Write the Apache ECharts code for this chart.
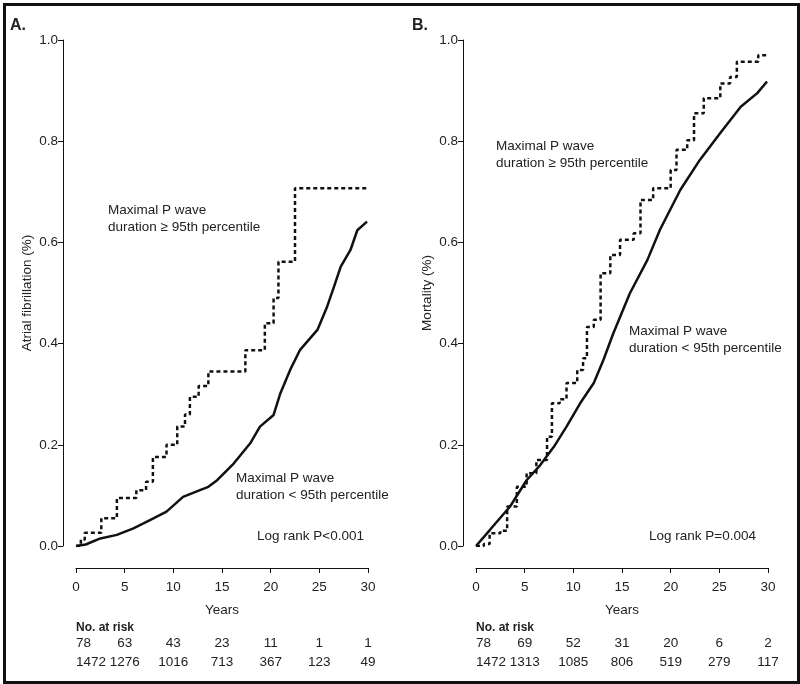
<!DOCTYPE html>
<html><head><meta charset="utf-8">
<script src="https://cdn.jsdelivr.net/npm/echarts@6/dist/echarts.min.js"></script>
<style>html,body{margin:0;padding:0;background:#fff}#c{width:800px;height:684px}</style>
</head><body><div id="c"></div>
<script>
// Panel A: atrial fibrillation
const afHigh = [[0,0],[0.5,0.013],[0.9,0.026],[2.6,0.055],[4.2,0.095],[6.2,0.11],[7.2,0.127],[7.9,0.176],[9.3,0.2],[10.4,0.236],[11.2,0.26],[11.7,0.295],[12.6,0.316],[13.6,0.345],[17.4,0.387],[19.4,0.44],[20.3,0.49],[20.8,0.562],[22.5,0.707],[29.9,0.707]];
const afLow = [[0,0],[1,0.003],[2.5,0.015],[4.2,0.022],[5.9,0.035],[7.6,0.051],[9.3,0.068],[11.0,0.097],[12.8,0.111],[13.6,0.117],[14.5,0.130],[16.2,0.163],[17.9,0.203],[18.9,0.236],[20.3,0.259],[21.0,0.302],[22.0,0.348],[23.0,0.387],[24.8,0.427],[25.8,0.473],[26.5,0.512],[27.2,0.552],[28.2,0.585],[28.9,0.624],[29.9,0.641]];
// Panel B: mortality
const mortHigh = [[0,0],[0.8,0.004],[1.4,0.025],[2.5,0.03],[3.2,0.078],[4.2,0.117],[5.2,0.144],[6.2,0.170],[7.3,0.216],[7.8,0.282],[8.6,0.29],[9.3,0.322],[10.4,0.348],[11.0,0.371],[11.4,0.433],[12.1,0.447],[12.8,0.539],[13.8,0.575],[14.8,0.605],[16.2,0.618],[16.9,0.684],[18.2,0.707],[20.0,0.743],[20.6,0.783],[21.7,0.802],[22.4,0.855],[23.4,0.885],[25.1,0.914],[26.1,0.927],[26.8,0.957],[29.0,0.970],[29.9,0.970]];
const mortLow = [[0,0],[1.44,0.032],[3.5,0.078],[5.2,0.130],[6.6,0.160],[8.0,0.196],[9.3,0.236],[10.7,0.282],[12.1,0.322],[13.1,0.368],[14.1,0.420],[15.8,0.499],[17.6,0.565],[18.9,0.625],[21.0,0.704],[23.0,0.763],[25.1,0.816],[27.2,0.868],[28.9,0.895],[29.9,0.918]];
// Numbers at risk at 0,5,...,30 years
const riskA_high = [78,63,43,23,11,1,1];
const riskA_low = [1472,1276,1016,713,367,123,49];
const riskB_high = [78,69,52,31,20,6,2];
const riskB_low = [1472,1313,1085,806,519,279,117];
const yTicks = [0,0.2,0.4,0.6,0.8,1.0];

const FONT = 'Liberation Sans, Arial, sans-serif';
const TXT = '#222';
const chart = echarts.init(document.getElementById('c'));

function grid(left){ return {left:left, top:40, width:292, height:506}; }
function mainX(gi){
  return {gridIndex:gi, type:'value', min:0, max:30, interval:5, offset:22,
    axisLine:{onZero:false,lineStyle:{color:'#111',width:1}}, axisTick:{length:5,lineStyle:{color:'#111'}},
    splitLine:{show:false}, axisLabel:{color:TXT,fontSize:13.5,fontFamily:FONT,margin:12},
    name:'Years', nameLocation:'middle', nameGap:35, nameTextStyle:{color:TXT,fontSize:13.5,fontFamily:FONT}};
}
function riskX(gi, arr, off){
  return {gridIndex:gi, type:'value', min:0, max:30, interval:5, offset:off, position:'bottom',
    axisLine:{show:false,onZero:false}, axisTick:{show:false}, splitLine:{show:false},
    axisLabel:{color:TXT,fontSize:13.5,fontFamily:FONT,margin:0,alignMinLabel:'left',
      formatter:v=>String(arr[Math.round(v/5)])}};
}
function yAx(gi, name){
  return {gridIndex:gi, type:'value', min:0, max:1, interval:0.2, offset:13,
    axisLine:{show:true,onZero:false,lineStyle:{color:'#111',width:1}}, axisTick:{show:true,length:5,lineStyle:{color:'#111'}},
    splitLine:{show:false}, axisLabel:{color:TXT,fontSize:13.5,fontFamily:FONT,margin:5,formatter:v=>v.toFixed(1)},
    name:name, nameLocation:'middle', nameGap:29, nameTextStyle:{color:TXT,fontSize:13.5,fontFamily:FONT}};
}
function dashed(xi,yi,data){ return {type:'line',xAxisIndex:xi,yAxisIndex:yi,data:data,step:'end',showSymbol:false,
  lineStyle:{color:'#111',width:2.5,type:[4,3]},animation:false}; }
function solid(xi,yi,data){ return {type:'line',xAxisIndex:xi,yAxisIndex:yi,data:data,showSymbol:false,
  lineStyle:{color:'#111',width:2.5},animation:false}; }
function txt(x,y,t,bold,size){ return {type:'text',left:x,top:y,style:{text:t,fill:TXT,font:(bold?'bold ':'')+(size||13.5)+'px '+FONT,lineHeight:17}}; }

chart.setOption({
  backgroundColor:'#fff',
  grid:[grid(76),grid(476)],
  xAxis:[mainX(0), riskX(0,riskA_high,90), riskX(0,riskA_low,109),
         mainX(1), riskX(1,riskB_high,90), riskX(1,riskB_low,109)],
  yAxis:[yAx(0,'Atrial fibrillation (%)'), yAx(1,'Mortality (%)')],
  series:[dashed(0,0,afHigh), solid(0,0,afLow), dashed(3,1,mortHigh), solid(3,1,mortLow)],
  graphic:[
    {type:'rect',left:2,top:2,shape:{width:794,height:678},style:{fill:'none',stroke:'#111',lineWidth:3}},
    txt(10,17,'A.',true,16), txt(412,17,'B.',true,16),
    txt(108,202,'Maximal P wave\nduration ≥ 95th percentile'),
    txt(236,470,'Maximal P wave\nduration < 95th percentile'),
    txt(257,528,'Log rank P<0.001'),
    txt(496,138,'Maximal P wave\nduration ≥ 95th percentile'),
    txt(629,323,'Maximal P wave\nduration < 95th percentile'),
    txt(649,528,'Log rank P=0.004'),
    txt(76,619,'No. at risk',true,12), txt(476,619,'No. at risk',true,12)
  ]
});
</script></body></html>
